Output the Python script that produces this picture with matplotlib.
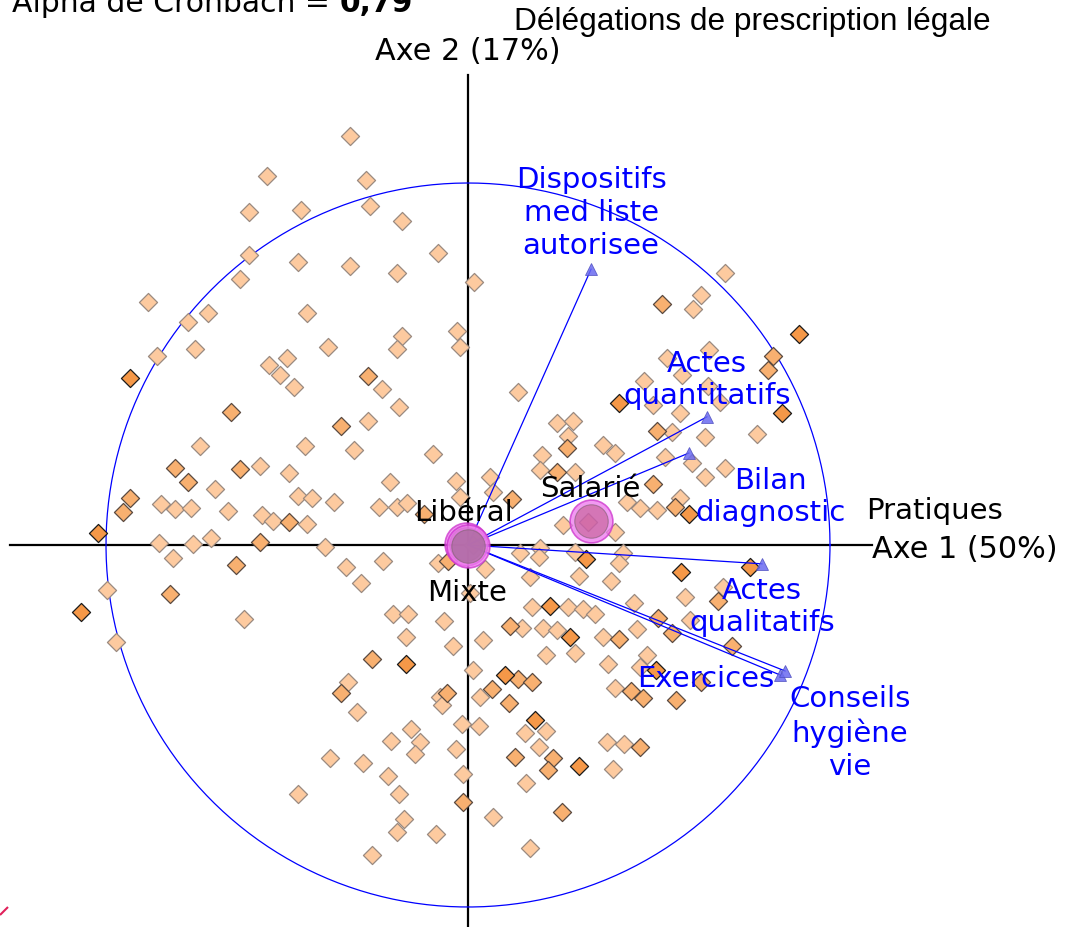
import matplotlib
matplotlib.use("Agg")
import matplotlib.pyplot as plt
import numpy as np

# Individuals: scores on axis 1 / axis 2 and number of identical answers
score_x = [
    -1.18, -2.01, -1.02, -2.19, -1.67, -0.98, -0.66, -2.19, -1.70, -1.18, -0.71, -0.30,
    -2.28, 0.06, -3.20, -2.80, -2.60, -1.61, -0.66, -0.71, -0.11, -0.08, -3.11, -2.73,
    -1.40, -1.99, -1.81, -1.88, -1.74, -3.38, -1.00, -0.86, -0.69, -2.37, -1.27, -1.00,
    -2.68, -1.63, -1.14, -0.35, -2.93, -2.80, -2.28, -2.08, -1.79, -2.53, -0.78, -0.12,
    -3.38, -3.45, -3.07, -2.93, -2.77, -2.40, -1.70, -1.56, -1.34, -2.06, -1.95, -1.79,
    -1.61, -0.89, -0.71, -0.61, -0.08, -0.44, -3.70, -3.09, -2.75, -2.57, -2.08, -1.43,
    0.10,
    # lower left
    -2.95, -2.32, -1.22, -0.85, -0.30, -0.20, -1.07, -3.61, -2.98, -3.87, -2.24, -0.75,
    -0.60, -0.24, -3.52, -0.62, -0.15, -0.96, -0.62, -1.20, -1.27, -1.11, -0.21, -0.28,
    -0.26, -0.06, -0.57, -0.77, -0.48, -0.53, -0.12, -1.38, -1.05, -0.80, -0.05, -1.70,
    -0.69, -0.05, -0.64, -0.71, -0.32, -0.96,
    # lower right
    0.05, 0.52, 0.72, 0.71, 1.07, 1.18, 1.55, 1.51, 0.17, 0.62, 1.11, 1.43, 2.13, 2.82,
    2.17, 2.50, 2.55, 0.02, 0.64, 0.82, 1.00, 1.15, 1.27, 1.66, 1.90, 2.04, 2.22, 0.42,
    0.54, 0.75, 0.89, 1.02, 1.35, 1.51, 1.69, 2.64, 0.15, 0.78, 1.07, 1.79, 1.40, 1.72,
    1.88, 2.33, 0.05, 0.37, 0.50, 0.64, 0.24, 0.12, 0.41, 1.47, 1.63, 1.75, 2.08, 0.67,
    0.11, 0.57, 0.78, 1.39, 1.56, 1.72, 0.47, 0.71, 0.85, 0.80, 1.11, 1.45, 0.58, 0.25,
    0.94, 0.62,
    # upper right
    2.57, 2.33, 1.94, 2.25, 3.31, 2.41, 1.99, 2.14, 3.05, 3.00, 1.76, 2.40, 0.50, 1.51,
    1.85, 2.12, 2.52, 3.14, 0.89, 1.05, 1.00, 0.99, 1.89, 2.04, 2.37, 2.89, 1.35, 1.47,
    0.74, 1.97, 2.24, 0.72, 0.89, 1.07, 0.22, 2.37, 2.57, 1.85, 0.25, 0.44, 1.59, 1.72,
    1.89, 2.07, 2.21, 2.12, 0.95, 1.47, 1.20,
]
score_y = [
    4.09, 3.69, 3.65, 3.33, 3.35, 3.39, 3.24, 2.90, 2.83, 2.79, 2.72, 2.92,
    2.66, 2.63, 2.43, 2.23, 2.32, 2.32, 2.09, 1.96, 2.14, 1.98, 1.89, 1.96,
    1.98, 1.80, 1.87, 1.70, 1.58, 1.67, 1.69, 1.56, 1.38, 1.33, 1.19, 1.24,
    0.99, 0.99, 0.95, 0.91, 0.77, 0.63, 0.76, 0.79, 0.72, 0.56, 0.63, 0.64,
    0.47, 0.33, 0.41, 0.36, 0.37, 0.34, 0.49, 0.47, 0.43, 0.30, 0.24, 0.23,
    0.21, 0.38, 0.38, 0.42, 0.48, 0.31, 0.12, 0.02, 0.01, 0.07, 0.03, -0.02,
    0.07,
    # lower left
    -0.13, -0.20, -0.22, -0.16, -0.18, -0.16, -0.38, -0.45, -0.49, -0.67, -0.74, -0.69,
    -0.69, -0.76, -0.97, -0.92, -1.01, -1.14, -1.19, -1.37, -1.48, -1.67, -1.48, -1.52,
    -1.60, -1.79, -1.84, -1.96, -1.97, -2.09, -2.04, -2.13, -2.18, -2.31, -2.29, -2.49,
    -2.49, -2.57, -2.74, -2.87, -2.89, -3.10,
    # lower right
    0.00, -0.08, -0.03, -0.12, -0.07, -0.14, -0.08, -0.18, -0.24, -0.32, -0.31, -0.36,
    -0.27, -0.22, -0.52, -0.56, -0.42, -0.48, -0.62, -0.61, -0.62, -0.64, -0.69, -0.58,
    -0.73, -0.88, -0.75, -0.81, -0.83, -0.83, -0.85, -0.92, -0.92, -0.94, -0.84, -1.01,
    -0.95, -1.10, -1.08, -1.10, -1.19, -1.22, -1.25, -1.37, -1.25, -1.30, -1.34, -1.37,
    -1.44, -1.52, -1.58, -1.43, -1.46, -1.53, -1.55, -1.75, -1.81, -1.88, -1.86, -1.97,
    -1.99, -2.02, -2.12, -2.02, -2.13, -2.25, -2.21, -2.24, -2.38, -2.72, -2.67, -3.03,
    # upper right
    2.72, 2.50, 2.41, 2.36, 2.11, 1.95, 1.87, 1.70, 1.89, 1.75, 1.64, 1.59, 1.53, 1.42,
    1.40, 1.32, 1.43, 1.32, 1.22, 1.24, 1.09, 0.97, 1.14, 1.13, 1.08, 1.11, 1.00, 0.92,
    0.90, 0.88, 0.82, 0.75, 0.73, 0.73, 0.68, 0.68, 0.77, 0.61, 0.53, 0.46, 0.43, 0.37,
    0.35, 0.38, 0.31, 0.47, 0.20, 0.13, 0.23,
]
score_n = [
    1, 1, 1, 1, 1, 1, 1, 1, 1, 1, 1, 1,
    1, 1, 1, 1, 1, 1, 1, 1, 1, 1, 1, 1,
    1, 1, 1, 1, 1, 3, 2, 1, 1, 2, 2, 1,
    1, 1, 1, 1, 2, 2, 2, 1, 1, 1, 1, 1,
    2, 2, 1, 1, 1, 1, 1, 1, 1, 1, 1, 2,
    1, 1, 1, 1, 1, 2, 3, 1, 1, 1, 2, 1,
    1,
    1, 2, 1, 1, 1, 2, 1, 1, 2, 3, 1, 1,
    1, 1, 1, 1, 1, 2, 3, 1, 2, 1, 2, 1,
    1, 1, 1, 1, 1, 1, 1, 1, 1, 1, 1, 1,
    1, 2, 1, 1, 1, 1,
    2, 1, 1, 1, 1, 3, 1, 1, 1, 1, 1, 1, 3, 3,
    1, 2, 1, 1, 1, 3, 1, 1, 1, 1, 2, 2, 1, 2,
    1, 1, 1, 3, 1, 2, 1, 2, 1, 1, 1, 1, 1, 1,
    3, 2, 1, 3, 2, 2, 2, 1, 2, 1, 2, 2, 2, 3,
    1, 1, 1, 1, 1, 2, 2, 1, 2, 2, 3, 1, 1, 1,
    2, 1,
    1, 1, 2, 1, 3, 1, 1, 1, 2, 2, 1, 1, 1, 3,
    1, 1, 1, 3, 1, 1, 1, 2, 2, 1, 1, 1, 1, 1,
    1, 1, 1, 1, 2, 1, 1, 1, 1, 2, 1, 2, 1, 1,
    1, 2, 3, 1, 1, 1, 2,
]

# Variables (correlation circle)
var_names = ["Dispositifs\nmed liste\nautorisee", "Actes\nquantitatifs", "Bilan\ndiagnostic",
             "Actes\nqualitatifs", "Exercices", "Conseils\nhygiène\nvie"]
load_x = [0.340, 0.660, 0.610, 0.812, 0.862, 0.876]
load_y = [0.762, 0.354, 0.254, -0.052, -0.359, -0.348]

# Supplementary categories
cat_names = ["Libéral", "Mixte", "Salarié"]
cat_x = [-0.005, 0.000, 0.340]
cat_y = [0.003, -0.004, 0.066]

scale = 1 / 3.62   # individuals rescaled onto the circle

W, H = 1066, 927
X0, Y0, R = 468, 545, 362


def P(x, y):
    # pixel position -> data position
    return (x - X0) / R, (Y0 - y) / R


fig = plt.figure(figsize=(W / 100, H / 100), dpi=100)
ax = fig.add_axes([0, 0, 1, 1])
ax.set_xlim(-X0 / R, (W - X0) / R)
ax.set_ylim((Y0 - H) / R, Y0 / R)
ax.axis("off")

# axes
ax.plot([P(10, 0)[0], P(872, 0)[0]], [0, 0], color="black", lw=1.6, zorder=2)
ax.plot([0, 0], [P(0, 75)[1], P(0, 930)[1]], color="black", lw=1.6, zorder=2)

# correlation circle
t = np.linspace(0, 2 * np.pi, 400)
ax.plot(np.cos(t), np.sin(t), color="blue", lw=0.9, zorder=2)

# individuals
sx = np.array(score_x) * scale
sy = np.array(score_y) * scale
n = np.array(score_n)
faces = {1: "#fdca9f", 2: "#f8b070", 3: "#f59848"}
edges = {1: "#9a8a80", 2: "#5a4a40", 3: "#1a1a1a"}
for k in (1, 2, 3):
    m = n == k
    ax.scatter(sx[m], sy[m], marker="D", s=85, facecolor=faces[k],
               edgecolor=edges[k], linewidth=0.9, zorder=3)

# variable arrows
for x, y in zip(load_x, load_y):
    ax.plot([0, x], [0, y], color="blue", lw=0.9, zorder=4)
    ax.plot(x, y, marker="^", ms=9, color="#6a6af0", mec="#5050c0",
            mew=0.6, alpha=0.85, zorder=4)

var_pos = [(591, 213), (707, 380), (770, 497), (762, 607), (706, 679), (850, 733)]
for name, (x, y) in zip(var_names, var_pos):
    ax.text(*P(x, y), name, color="blue", fontsize=21, ha="center", va="center",
            linespacing=1.22, zorder=6)

# categories
for i, (x, y) in enumerate(zip(cat_x, cat_y)):
    inner = "#c0608f" if i == 2 else "#9a6a8a"
    ax.scatter(x, y, s=950, facecolor="#ee77ee", edgecolor="#cc33cc",
               linewidth=1.2, alpha=0.75, zorder=5)
    ax.scatter(x, y, s=580, facecolor=inner, edgecolor="#806070",
               linewidth=0.8, alpha=0.6, zorder=5)

cat_pos = [(463, 513), (467, 593), (590, 489)]
for name, (x, y) in zip(cat_names, cat_pos):
    ax.text(*P(x, y), name, color="black", fontsize=21, ha="center", va="center", zorder=6)

# axis titles
ax.text(*P(866, 511), "Pratiques", fontsize=21, ha="left", va="center")
ax.text(*P(872, 549), "Axe 1 (50%)", fontsize=21.8, ha="left", va="center")
ax.text(*P(468, 52), "Axe 2 (17%)", fontsize=21.8, ha="center", va="center")
ax.text(*P(752, 22), "Délégations de prescription légale", fontsize=22.8,
        family="Liberation Sans", ha="center", va="center")

# Cronbach alpha (partly cut at top)
t1 = ax.text(*P(12, 12), "Alpha de Cronbach = ", fontsize=21.5, ha="left", va="baseline")
fig.canvas.draw()
bb = t1.get_window_extent(renderer=fig.canvas.get_renderer())
xb = ax.transData.inverted().transform((bb.x1, 0))[0]
ax.text(xb, P(0, 12)[1], "0,79", fontsize=21.5, fontweight="bold", ha="left", va="baseline")

# small red mark bottom-left
ax.plot([P(0, 915)[0], P(8, 907)[0]], [P(0, 915)[1], P(8, 907)[1]],
        color="#e0205a", lw=1.5, solid_capstyle="butt")

fig.savefig("out.png", dpi=100)
